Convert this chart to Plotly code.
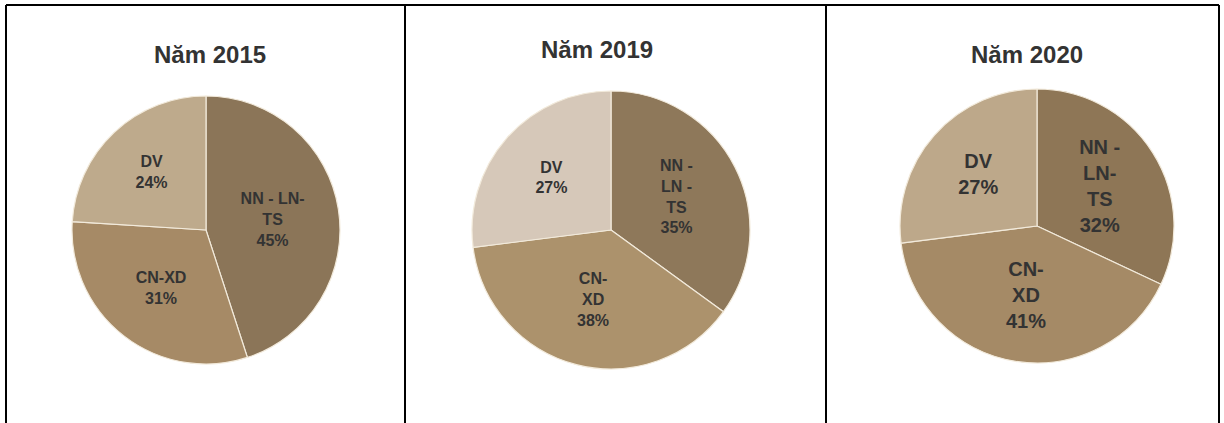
import plotly.graph_objects as go

years = ["Năm 2015", "Năm 2019", "Năm 2020"]
sectors = ["NN - LN - TS", "CN-XD", "DV"]
values_2015 = [45, 31, 24]
values_2019 = [35, 38, 27]
values_2020 = [32, 41, 27]
text_2015 = ["NN - LN-<br>TS<br>45%", "CN-XD<br>31%", "DV<br>24%"]
text_2019 = ["NN -<br>LN -<br>TS<br>35%", "CN-<br>XD<br>38%", "DV<br>27%"]
text_2020 = ["NN -<br>LN-<br>TS<br>32%", "CN-<br>XD<br>41%", "DV<br>27%"]
colors_2015 = ["#8B7558", "#A68A66", "#BEAA8C"]
colors_2019 = ["#8E785A", "#AC926C", "#D6C8B9"]
colors_2020 = ["#8E7656", "#A58A66", "#BDA88A"]

W, H = 1224, 423

def dom(cx, cy, r):
    return dict(x=[(cx - r) / W, (cx + r) / W], y=[(H - cy - r) / H, (H - cy + r) / H])

domains = [dom(206, 230, 134), dom(611, 230, 139), dom(1037, 226, 137)]
vals = [values_2015, values_2019, values_2020]
texts = [text_2015, text_2019, text_2020]
cols = [colors_2015, colors_2019, colors_2020]
fsizes = [16, 16, 20]

fig = go.Figure()
for i in range(3):
    fig.add_trace(go.Pie(
        labels=sectors, values=vals[i], text=texts[i], textinfo="text",
        textposition="inside", insidetextorientation="horizontal",
        sort=False, direction="clockwise", rotation=0,
        marker=dict(colors=cols[i], line=dict(color="#F2EADB", width=1.2)),
        textfont=dict(family="Liberation Sans, Arial", size=fsizes[i], color="#333333",
                      weight="bold"),
        domain=domains[i], showlegend=False, hoverinfo="label+percent",
    ))

title_pos = [(210, 55), (597, 50), (1027, 55)]
for (x, y), t in zip(title_pos, years):
    fig.add_annotation(x=x / W, y=1 - y / H, xref="paper", yref="paper",
                       text="<b>%s</b>" % t, showarrow=False,
                       font=dict(family="Liberation Sans, Arial", size=24, color="#333333"),
                       xanchor="center", yanchor="middle")

# panel borders
top = 1 - 5 / H
for xp in [6, 405, 826, 1219]:
    fig.add_shape(type="line", xref="paper", yref="paper", x0=xp / W, x1=xp / W, y0=0, y1=top,
                  line=dict(color="black", width=2))
fig.add_shape(type="line", xref="paper", yref="paper", x0=6 / W, x1=1219 / W, y0=top, y1=top,
              line=dict(color="black", width=2))

fig.update_layout(width=W, height=H, margin=dict(l=0, r=0, t=0, b=0),
                  paper_bgcolor="white", plot_bgcolor="white")
fig.write_html("out.html")
